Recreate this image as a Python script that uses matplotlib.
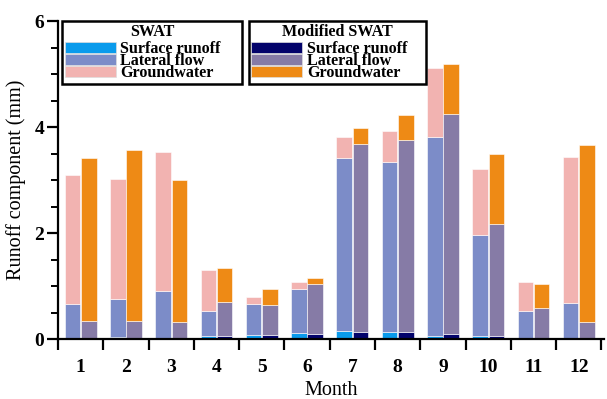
import numpy as np
import matplotlib.pyplot as plt
from matplotlib.patches import Patch

# Monthly runoff components (mm)
months = np.arange(1, 13)

swat_surface = [0.03, 0.04, 0.03, 0.06, 0.08, 0.12, 0.16, 0.13, 0.06, 0.06, 0.02, 0.01]
swat_lateral = [0.64, 0.71, 0.87, 0.47, 0.58, 0.82, 3.25, 3.22, 3.76, 1.90, 0.51, 0.67]
swat_ground = [2.42, 2.28, 2.63, 0.77, 0.13, 0.13, 0.41, 0.57, 1.29, 1.25, 0.55, 2.76]

mod_surface = [0.01, 0.02, 0.01, 0.06, 0.08, 0.09, 0.14, 0.13, 0.09, 0.05, 0.02, 0.01]
mod_lateral = [0.34, 0.33, 0.32, 0.65, 0.56, 0.95, 3.55, 3.62, 4.16, 2.12, 0.56, 0.32]
mod_ground = [3.07, 3.22, 2.67, 0.64, 0.30, 0.11, 0.29, 0.48, 0.94, 1.33, 0.46, 3.34]

labels = ['Surface runoff', 'Lateral flow', 'Groundwater']
swat_colors = ['#0A9BEC', '#7C8CC8', '#F2B3B1']
mod_colors = ['#03036B', '#867BA6', '#EE8A15']

plt.rcParams['font.family'] = 'Liberation Serif'

fig = plt.figure(figsize=(6.07, 3.99), dpi=100)
ax = fig.add_axes([0.0956, 0.150, 0.899, 0.797])

width = 0.345
off = 0.18

def stack(x, parts, colors):
    bottom = np.zeros(len(x))
    for vals, c in zip(parts, colors):
        ax.bar(x, vals, width, bottom=bottom, color=c, edgecolor='#ffffff', linewidth=0.4)
        bottom = bottom + np.array(vals)

stack(months - off, [swat_surface, swat_lateral, swat_ground], swat_colors)
stack(months + off, [mod_surface, mod_lateral, mod_ground], mod_colors)

ax.set_xlim(0.5, 12.55)
ax.set_ylim(0, 6)
ax.spines['top'].set_visible(False)
ax.spines['right'].set_visible(False)
ax.spines['left'].set_linewidth(1.6)
ax.spines['bottom'].set_linewidth(1.6)

ax.set_xticks(months)
ax.set_xticklabels([str(m) for m in months], fontsize=14, fontweight='bold')
ax.set_xticks(np.arange(0.5, 13, 1), minor=True)
ax.tick_params(axis='x', which='major', length=0, pad=14)
ax.tick_params(axis='x', which='minor', length=8, width=1.6, direction='out')

ax.set_yticks([0, 2, 4, 6])
ax.set_yticklabels(['0', '2', '4', '6'], fontsize=14, fontweight='bold')
ax.set_yticks(np.arange(0, 6.01, 0.5), minor=True)
ax.tick_params(axis='y', which='major', length=8, width=1.6, direction='out', pad=2)
ax.tick_params(axis='y', which='minor', length=5, width=1.4, direction='out')

ax.set_xlabel('Month', fontsize=14.5, labelpad=4)
ax.set_ylabel('Runoff component (mm)', fontsize=14.5)
ax.yaxis.set_label_coords(-0.058, 0.5)

def make_legend(colors, title, x, w):
    handles = [Patch(facecolor=c, edgecolor='#dddddd', linewidth=0.5) for c in colors]
    leg = ax.legend(handles, labels, title=title, loc='upper left',
                    bbox_to_anchor=(x, 0.0, w, 1.0), mode='expand',
                    prop={'weight': 'bold', 'size': 11.6}, title_fontsize=11.6,
                    handlelength=3.15, handleheight=0.7, handletextpad=0.3,
                    labelspacing=-0.24, borderpad=0.15, borderaxespad=0,
                    fancybox=False, framealpha=1, edgecolor='black')
    leg.get_frame().set_linewidth(1.8)
    leg.get_title().set_fontweight('bold')
    # a bit of room between the title and the entries
    leg._legend_box.sep = 1.0
    return leg

leg1 = make_legend(swat_colors, 'SWAT', 0.008, 0.33)
ax.add_artist(leg1)
make_legend(mod_colors, 'Modified SWAT', 0.35, 0.324)

fig.savefig('out.png', dpi=100)
